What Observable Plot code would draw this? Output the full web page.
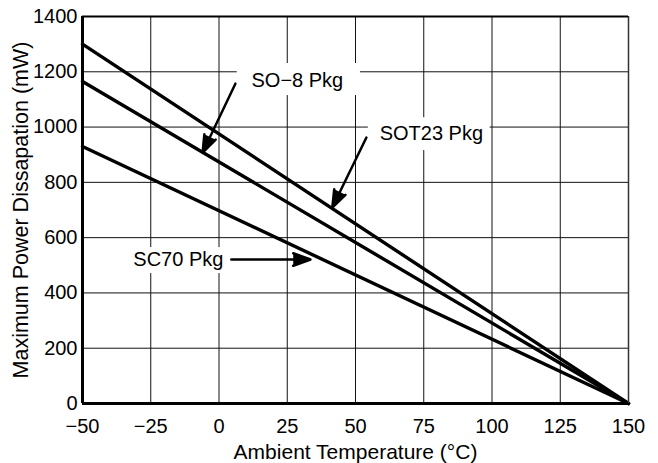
<!DOCTYPE html>
<html>
<head>
<meta charset="utf-8">
<script src="https://cdn.jsdelivr.net/npm/d3@7"></script>
<script src="https://cdn.jsdelivr.net/npm/@observablehq/plot@0.6"></script>
<style>
  html, body { margin: 0; padding: 0; background: #fff; }
  #chart { width: 658px; height: 463px; }
</style>
</head>
<body>
<div id="chart"></div>
<script>
// Temperature endpoints (°C)
const temps = [-50, 150];
// Series values (mW) at those temperatures
const so8 = [1165, 0];
const sot23 = [1300, 0];
const sc70 = [930, 0];
const seriesNames = ["SO−8 Pkg", "SOT23 Pkg", "SC70 Pkg"];
const seriesValues = [so8, sot23, sc70];

// Axis ticks and titles
const xTicks = [-50, -25, 0, 25, 50, 75, 100, 125, 150];
const yTicks = [0, 200, 400, 600, 800, 1000, 1200, 1400];
const xTitle = "Ambient Temperature (°C)";
const yTitle = "Maximum Power Dissapation (mW)";

// Annotation labels (data coordinates)
const labelText = ["SO−8 Pkg", "SOT23 Pkg", "SC70 Pkg"];
const labelX = [28.7, 77.8, -14.9];
const labelY = [1168, 975, 521];
const boxX1 = [6.7, 54.7, -33.5];
const boxX2 = [51.8, 99.3, 3.4];
const boxY1 = [1114, 915, 470];
const boxY2 = [1230, 1034, 564];
const arrowX1 = [6, 54, 4.5];
const arrowY1 = [1157, 962, 521];
const arrowX2 = [-6, 41.5, 33.5];
const arrowY2 = [908, 709, 521];

const lineData = seriesNames.flatMap((name, i) =>
  temps.map((t, j) => ({series: name, temp: t, power: seriesValues[i][j]}))
);
const labels = labelText.map((t, i) => ({
  text: t, x: labelX[i], y: labelY[i],
  bx1: boxX1[i], bx2: boxX2[i], by1: boxY1[i], by2: boxY2[i],
  ax1: arrowX1[i], ay1: arrowY1[i], ax2: arrowX2[i], ay2: arrowY2[i]
}));

const fmt = d3.format("");

const chart = Plot.plot({
  width: 658,
  height: 463,
  marginLeft: 82,
  marginRight: 30,
  marginTop: 16,
  marginBottom: 60,
  style: {fontFamily: "'Liberation Sans', Arial, sans-serif", fontSize: "20px", color: "#000", background: "#fff", overflow: "visible"},
  x: {domain: [-50, 150]},
  y: {domain: [0, 1400]},
  marks: [
    Plot.gridX(xTicks, {stroke: "#111", strokeOpacity: 1, strokeWidth: 1}),
    Plot.gridY(yTicks, {stroke: "#111", strokeOpacity: 1, strokeWidth: 1}),
    Plot.rect(labels, {x1: "bx1", x2: "bx2", y1: "by1", y2: "by2", fill: "white"}),
    Plot.line(lineData, {x: "temp", y: "power", z: "series", stroke: "black", strokeWidth: 3.4}),
    Plot.text(labels, {x: "x", y: "y", text: "text", fontSize: 20, fill: "black"}),
    Plot.arrow(labels, {x1: "ax1", y1: "ay1", x2: "ax2", y2: "ay2", stroke: "black", fill: "black", strokeWidth: 2.5, headLength: 11, headAngle: 40}),
    Plot.ruleX([150], {stroke: "#333", strokeWidth: 1.5}),
    Plot.ruleY([1400], {stroke: "black", strokeWidth: 2.2}),
    Plot.ruleX([-50], {stroke: "black", strokeWidth: 3}),
    Plot.ruleY([0], {stroke: "black", strokeWidth: 3}),
    Plot.axisX(xTicks, {tickSize: 0, tickPadding: 15, tickFormat: fmt, fontSize: 20, label: null}),
    Plot.axisY(yTicks, {tickSize: 0, tickPadding: 5, tickFormat: fmt, fontSize: 20, label: null}),
    Plot.text([xTitle], {frameAnchor: "bottom", text: d => d, dy: 49, lineAnchor: "middle", textAnchor: "middle", fontSize: 21, fill: "black"}),
    Plot.text([yTitle], {frameAnchor: "left", text: d => d, dx: -61.5, rotate: -90, lineAnchor: "middle", textAnchor: "middle", fontSize: 21.5, fill: "black"})
  ]
});
document.getElementById("chart").appendChild(chart);
</script>
</body>
</html>
